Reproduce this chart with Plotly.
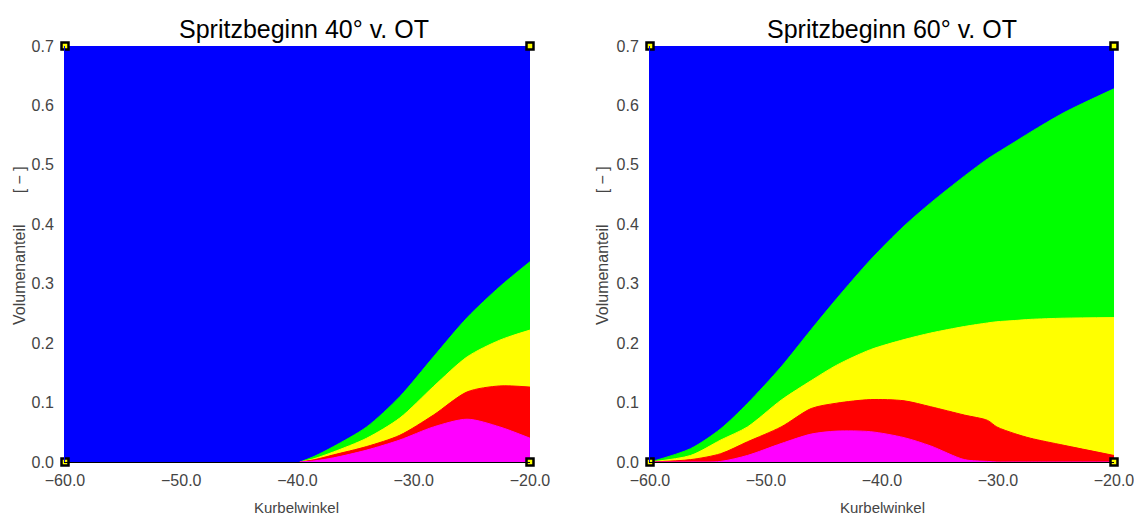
import plotly.graph_objects as go

# ---- data: cumulative layer tops (volume fraction) ----
titles = ["Spritzbeginn 40° v. OT", "Spritzbeginn 60° v. OT"]
x_ticks = [-60.0, -50.0, -40.0, -30.0, -20.0]
y_ticks = [0.0, 0.1, 0.2, 0.3, 0.4, 0.5, 0.6, 0.7]

x_sb40 = [-39.8, -38.5, -36.9, -34.05, -31.2, -28.3, -25.4, -22.6, -20.0]
sb40_magenta = [0.0, 0.002, 0.007, 0.020, 0.037, 0.059, 0.072, 0.059, 0.040]
sb40_red     = [0.0, 0.004, 0.012, 0.026, 0.045, 0.079, 0.118, 0.128, 0.126]
sb40_yellow  = [0.0, 0.006, 0.017, 0.040, 0.074, 0.127, 0.177, 0.205, 0.222]
sb40_green   = [0.0, 0.010, 0.026, 0.059, 0.110, 0.177, 0.243, 0.295, 0.337]

x_sb60 = [-60.0, -56.5, -53.9, -51.6, -48.7, -46.1, -43.9, -41.0, -38.1, -35.8,
          -32.9, -30.9, -30.1, -28.6, -27.2, -24.3, -20.0]
sb60_magenta = [0.0, 0.0, 0.001, 0.011, 0.031, 0.047, 0.052, 0.051, 0.041, 0.027,
                0.004, 0.001, 0.0, 0.0, 0.0, 0.0, 0.0]
sb60_red     = [0.0, 0.004, 0.014, 0.034, 0.059, 0.090, 0.099, 0.105, 0.103, 0.093,
                0.079, 0.070, 0.059, 0.048, 0.040, 0.028, 0.011]
sb60_yellow  = [0.0, 0.011, 0.037, 0.059, 0.104, 0.137, 0.163, 0.189, 0.206, 0.217,
                0.228, 0.234, 0.236, 0.238, 0.240, 0.242, 0.243]
sb60_green   = [0.0, 0.0225, 0.056, 0.0985, 0.160, 0.223, 0.275, 0.340, 0.397, 0.436,
                0.481, 0.510, 0.520, 0.538, 0.555, 0.588, 0.628]

colors = {"green": "#00ff00", "yellow": "#ffff00", "red": "#ff0000", "magenta": "#ff00ff"}
BLUE = "#0000ff"

fig = go.Figure()

panels = [
    ("x", "y", x_sb40, [("green", sb40_green), ("yellow", sb40_yellow),
                        ("red", sb40_red), ("magenta", sb40_magenta)]),
    ("x2", "y2", x_sb60, [("green", sb60_green), ("yellow", sb60_yellow),
                          ("red", sb60_red), ("magenta", sb60_magenta)]),
]

for xa, ya, xs, layers in panels:
    for name, ys in layers:
        fig.add_trace(go.Scatter(
            x=xs, y=ys, xaxis=xa, yaxis=ya, mode="lines",
            line=dict(color=colors[name], width=1, shape="spline", smoothing=0.8),
            fill="tozeroy", fillcolor=colors[name], showlegend=False, hoverinfo="skip"))
    fig.add_trace(go.Scatter(
        x=[-60, -60, -20, -20], y=[0, 0.7, 0.7, 0], xaxis=xa, yaxis=ya, mode="markers",
        marker=dict(symbol="square", size=7, color="#ffff00",
                    line=dict(color="black", width=2.5)),
        cliponaxis=False, showlegend=False, hoverinfo="skip"))

tick_font = dict(family="Liberation Sans, Arial, sans-serif", size=16, color="#444444")
axis_common = dict(showgrid=False, zeroline=False, ticks="", showline=True,
                   linecolor="black", linewidth=1, tickfont=tick_font, mirror=False,
                   automargin=False, ticklabeloverflow="allow")

doms_x = [[65 / 1134, 530 / 1134], [650 / 1134, 1114 / 1134]]
dom_y = [(520 - 462) / 520, (520 - 46) / 520]

layout = dict(
    width=1134, height=520, margin=dict(l=0, r=0, t=0, b=0),
    paper_bgcolor="white", plot_bgcolor=BLUE,
    showlegend=False,
)
for i, suf in enumerate(["", "2"]):
    layout["xaxis" + suf] = dict(axis_common, domain=doms_x[i], range=[-60, -20],
                                 tickvals=x_ticks, tickformat=".1f",
                                 anchor="y" + suf, ticklabelstandoff=4)
    layout["yaxis" + suf] = dict(axis_common, domain=dom_y, range=[0, 0.7],
                                 tickvals=y_ticks, tickformat=".1f",
                                 anchor="x" + suf, ticklabelstandoff=7,
                                 linecolor=BLUE)
fig.update_layout(**layout)

title_font = dict(family="Liberation Sans, Arial, sans-serif", size=25, color="black")
lab_font = dict(family="Liberation Sans, Arial, sans-serif", size=15, color="#444444")
ylab_font = dict(family="Liberation Sans, Arial, sans-serif", size=16, color="#444444")
ylab = "Volumenanteil" + "\u00a0" * 7 + "[\u00a0\u2212\u00a0]"
title_cx = [304, 892]
xlab_cx = [296.5, 882]
ylab_cx = [19, 602]
for i in range(2):
    fig.add_annotation(x=title_cx[i] / 1134, y=1 - 29 / 520, xref="paper", yref="paper",
                       text=titles[i], showarrow=False, font=title_font,
                       xanchor="center", yanchor="middle")
    fig.add_annotation(x=xlab_cx[i] / 1134, y=1 - 507 / 520, xref="paper", yref="paper",
                       text="Kurbelwinkel", showarrow=False, font=lab_font,
                       xanchor="center", yanchor="middle")
    fig.add_annotation(x=ylab_cx[i] / 1134, y=1 - 246 / 520, xref="paper", yref="paper",
                       text=ylab, showarrow=False, font=ylab_font,
                       textangle=-90, xanchor="center", yanchor="middle")

fig.write_html("out.html")
